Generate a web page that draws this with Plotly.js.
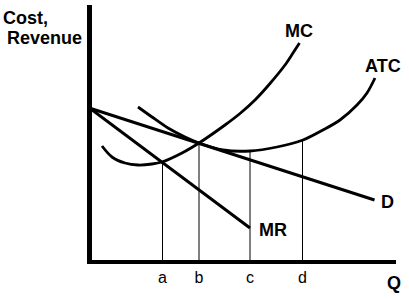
<!DOCTYPE html>
<html><head><meta charset="utf-8">
<script src="https://cdn.plot.ly/plotly-3.0.1.min.js"></script>
<style>html,body{margin:0;padding:0;background:#fff;overflow:hidden}</style>
</head><body><div id="chart" style="width:409px;height:300px"></div>
<script>
// Demand (D) and marginal revenue (MR)
const dQ = [0, 28.5];
const dC = [15.4, 6.2];
const mrQ = [0, 16.05];
const mrC = [15.4, 3.4];
// Marginal cost
const mcQ = [1.25, 2.25, 3.55, 4.85, 6.25, 7.25, 9.25, 10.95, 13.55, 15.05, 16.55, 18.05, 19.55, 20.35, 21.0];
const mcC = [11.6, 10.5, 9.9, 9.7, 9.8, 10.0, 10.9, 11.9, 13.7, 14.85, 16.2, 17.85, 19.7, 20.9, 21.9];
// Average total cost
const atcQ = [4.85, 6.25, 7.85, 9.55, 10.95, 13.35, 16.05, 18.75, 21.35, 23.35, 25.05, 26.75, 27.75, 28.55];
const atcC = [15.5, 14.5, 13.4, 12.5, 11.9, 11.2, 11.1, 11.5, 12.2, 13.2, 14.2, 15.7, 16.9, 18.4];
// Quantities a, b, c, d and the heights their guide lines reach
const tickLabels = ['a', 'b', 'c', 'd'];
const tickQ = [7.3, 10.95, 16.05, 21.3];
const dropTop = [10.0, 11.9, 11.1, 12.3];
// Curve labels
const curveNames = ['MC', 'ATC', 'D', 'MR'];
const labelQ = [20.95, 29.3, 29.75, 18.3];
const labelC = [23.1, 19.6, 6.05, 3.25];

const dropX = [], dropY = [];
tickQ.forEach((q, i) => { dropX.push(q, q, null); dropY.push(dropTop[i], 0, null); });

const FONT = 'Liberation Sans, Arial, sans-serif';
const traces = [
  {x: dropX, y: dropY, mode: 'lines', line: {color: '#000', width: 1}},
  {x: dQ, y: dC, mode: 'lines', line: {color: '#000', width: 3}},
  {x: mrQ, y: mrC, mode: 'lines', line: {color: '#000', width: 3}},
  {x: mcQ, y: mcC, mode: 'lines', line: {color: '#000', width: 2.8, shape: 'spline', smoothing: 0.9}},
  {x: atcQ, y: atcC, mode: 'lines', line: {color: '#000', width: 2.8, shape: 'spline', smoothing: 0.9}}
];

const annotations = curveNames.map((t, i) => ({
  x: labelQ[i], y: labelC[i], xref: 'x', yref: 'y', text: t, showarrow: false,
  xanchor: 'center', yanchor: 'middle',
  font: {family: FONT, size: 18, weight: 'bold', color: '#000'}
}));
annotations.push(
  {x: (1 - 92) / 304, y: 0.949, xref: 'paper', yref: 'paper', text: 'Cost,', showarrow: false,
   xanchor: 'left', yanchor: 'middle', font: {family: FONT, size: 18, weight: 'bold', color: '#000'}},
  {x: (5 - 92) / 304, y: 0.8725, xref: 'paper', yref: 'paper', text: 'Revenue', showarrow: false,
   xanchor: 'left', yanchor: 'middle', font: {family: FONT, size: 18, weight: 'bold', color: '#000'}},
  {x: 0.995, y: -0.0902, xref: 'paper', yref: 'paper', text: 'Q', showarrow: false,
   xanchor: 'center', yanchor: 'middle', font: {family: FONT, size: 18, weight: 'bold', color: '#000'}}
);

const layout = {
  width: 409, height: 300,
  margin: {l: 92, r: 13, t: 5, b: 40, pad: 0},
  paper_bgcolor: '#fff', plot_bgcolor: '#fff',
  showlegend: false,
  xaxis: {range: [0.25, 30.65], showgrid: false, zeroline: false, showline: true,
          linecolor: '#000', linewidth: 4, ticks: '', tickvals: tickQ, ticktext: tickLabels,
          tickfont: {family: FONT, size: 16, color: '#000'}, fixedrange: true},
  yaxis: {range: [0.2, 25.7], showgrid: false, zeroline: false, showline: true,
          linecolor: '#000', linewidth: 5, ticks: '', showticklabels: false, fixedrange: true},
  annotations: annotations
};
Plotly.newPlot('chart', traces, layout, {staticPlot: true, displayModeBar: false});
</script>
</body></html>
